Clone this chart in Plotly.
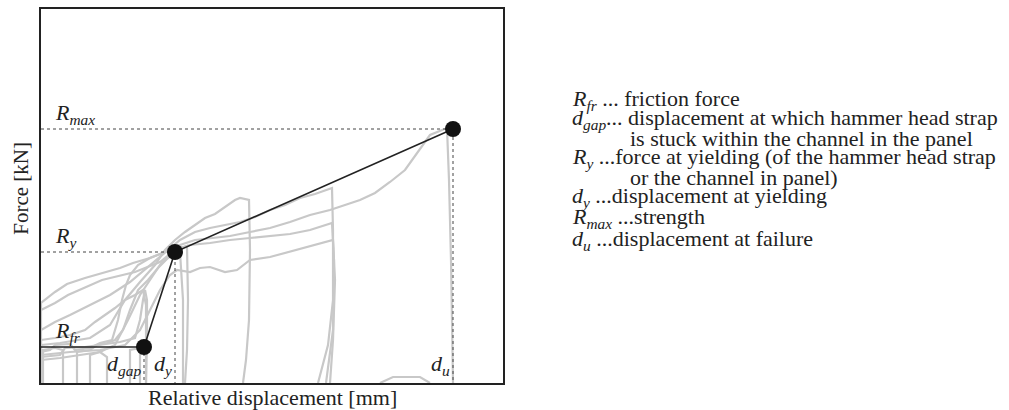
import plotly.graph_objects as go

# grey test curves: relative displacement [mm] / force [kN]
curve_disp = [
    [0, 0, 1.4, 2.6, 4.4, 5.9, 7.9, 9.2, 10.9, 12.4, 13.9, 15.4, 17.4, 18.9, 20.9, 22.9, 24.9, 26.9, 28.9,
     30.4, 31.9, 33.4, 34.9, 36.4, 37.7, 38.9, 40.6, 40.8, 41.0, 41.1, 41.2],
    [0, 0, 1.9, 4.9, 6.9, 8.4, 9.9, 11.4, 12.4, 13.4, 14.4, 15.4, 16.4, 17.4, 18.4, 19.4, 19.9, 20.8, 20.9,
     20.8, 20.5, 20.2],
    [0, 1.4, 2.9, 4.9, 6.9, 8.9, 10.9, 12.4, 13.9, 15.4, 16.9, 18.4, 19.9, 21.4, 22.9, 24.4, 25.9, 27.4,
     29.1, 29.2, 29.2, 28.7, 27.7],
    [0, 1.4, 2.7, 6.1, 9.4, 11.9, 13.4, 14.9, 16.9, 18.9, 20.9, 22.9, 24.9, 26.9, 29.1, 29.3, 29.2, 28.5],
    [0, 0, 2.9, 5.9, 8.4, 9.9, 10.9, 11.9, 12.9, 13.6, 14.9, 15.9, 16.9, 18.4, 19.6, 20.9, 22.9, 25.6, 27.4,
     29.2, 29.4, 29.2, 28.9],
    [0, 0, 1.9, 3.9, 5.9, 7.4, 8.7, 9.9, 10.9, 11.9, 12.9, 13.9, 14.6, 14.7, 14.6, 14.4],
    [0, 0, 0.9, 1.4, 2.9, 3.4, 4.9, 5.9, 7.1, 7.7, 8.1, 8.5, 8.9, 9.7, 10.9, 12.4, 13.4, 13.9, 14.2, 14.2],
    [0, 0, 1.9, 2.4, 4.4, 5.9, 7.9, 9.4, 9.9, 10.2, 10.4, 10.6, 10.6, 10.5],
    [0, 0, 1.4, 2.9, 4.4, 5.4, 6.4, 7.4, 8.4, 9.4, 10.2, 10.5, 10.5],
    [0.2, 0.2, 1.4, 2.2, 2.2],
    [3.6, 3.6, 4.9, 5.6, 6.6, 7.4, 8.2, 8.9, 9.7, 10.7, 11.7, 12.7, 13.4],
    [4.9, 4.9, 5.9, 6.6, 6.6],
    [8.9, 8.9, 9.9, 9.9],
    [33.9, 35.2, 37.9, 38.9],
]
curve_force = [
    [0, 8.0, 9.1, 9.9, 10.5, 10.9, 11.5, 12.0, 12.5, 13.1, 13.8, 14.3, 14.5, 14.7, 15.1, 15.5, 16.1, 16.8, 17.3,
     17.8, 18.3, 19.0, 20.1, 21.3, 23.1, 24.8, 25.5, 20.3, 12.3, 5.3, 0],
    [0, 3.8, 4.0, 4.5, 5.8, 8.3, 10.1, 11.8, 13.3, 14.3, 15.1, 15.8, 16.5, 16.9, 17.6, 18.3, 18.5, 18.3, 13.3,
     6.3, 2.3, 0],
    [5.3, 6.1, 6.8, 7.8, 8.8, 10.1, 11.8, 13.1, 14.3, 15.1, 15.5, 15.8, 16.1, 16.6, 17.3, 17.8, 18.5, 18.9,
     19.5, 15.3, 8.3, 3.8, 0],
    [7.3, 8.0, 8.8, 10.3, 11.1, 12.1, 13.3, 13.8, 14.0, 14.3, 14.5, 14.7, 14.9, 15.3, 16.0, 12.3, 5.3, 0],
    [0, 2.8, 3.1, 3.3, 3.8, 5.3, 7.3, 9.3, 10.8, 11.3, 11.1, 11.5, 11.6, 11.1, 11.3, 12.3, 12.6, 13.3, 13.8,
     14.3, 10.3, 4.3, 0],
    [0, 2.3, 2.5, 2.8, 3.1, 3.8, 6.3, 8.8, 10.3, 11.8, 12.8, 13.5, 13.7, 8.3, 3.3, 0],
    [0, 3.1, 3.3, 3.8, 3.9, 3.3, 3.5, 4.0, 4.3, 6.3, 8.3, 9.8, 10.8, 11.8, 12.5, 13.1, 13.3, 13.1, 8.3, 0],
    [0, 2.6, 2.8, 3.5, 3.6, 3.8, 4.1, 4.5, 6.3, 8.3, 9.3, 8.3, 4.3, 0],
    [0, 4.3, 4.5, 4.8, 5.3, 6.1, 6.8, 7.5, 8.3, 8.8, 9.3, 7.8, 0],
    [0, 3.3, 3.5, 3.3, 0],
    [0, 3.1, 3.3, 3.8, 4.0, 4.3, 5.3, 7.3, 9.3, 10.3, 11.5, 12.5, 13.0],
    [0, 2.8, 3.1, 2.6, 0],
    [0, 3.3, 3.5, 0],
    [0, 0.6, 0.6, 0],
]

# idealised model: friction, gap, yield, max
model_disp = [0, 10.3, 13.4, 41.2]
model_force = [3.6, 3.6, 13.1, 25.4]
model_labels = ['gap', 'y', 'u']

legend_lines = [
    '<i>R</i><sub><i>fr</i></sub> ... friction force',
    '<i>d</i><sub><i>gap</i></sub>... displacement at which hammer head strap',
    'is stuck within the channel in the panel',
    '<i>R</i><sub><i>y</i></sub> ...force at yielding (of the hammer head strap',
    'or the channel in panel)',
    '<i>d</i><sub><i>y</i></sub> ...displacement at yielding',
    '<i>R</i><sub><i>max</i></sub> ...strength',
    '<i>d</i><sub><i>u</i></sub> ...displacement at failure',
]
legend_indent = [0, 0, 1, 0, 1, 0, 0, 0]

FONT = 'Liberation Serif'
X_MAX, Y_MAX = 46.2, 37.4

fig = go.Figure()

for xs, ys in zip(curve_disp, curve_force):
    fig.add_trace(go.Scatter(
        x=xs, y=ys, mode='lines',
        line=dict(color='#c8c8c8', width=2.2),
        showlegend=False, hoverinfo='skip',
    ))

# dotted guide lines
dgap, dy, du = model_disp[1], model_disp[2], model_disp[3]
rfr, ry, rmax = model_force[1], model_force[2], model_force[3]
for xs, ys in [
    ([0, du, du], [rmax, rmax, 0]),
    ([0, dy, dy], [ry, ry, 0]),
    ([dgap, dgap], [rfr, 0]),
]:
    fig.add_trace(go.Scatter(
        x=xs, y=ys, mode='lines',
        line=dict(color='#444444', width=1, dash='dot'),
        showlegend=False, hoverinfo='skip',
    ))

fig.add_trace(go.Scatter(
    x=model_disp, y=model_force, mode='lines',
    line=dict(color='#222222', width=1.6),
    showlegend=False,
))
fig.add_trace(go.Scatter(
    x=model_disp[1:], y=model_force[1:], mode='markers',
    marker=dict(color='#111111', size=16),
    showlegend=False,
))

lab_font = dict(family=FONT, size=22, color='#222222')
# force labels on the left
for txt, yv in [('max', rmax), ('y', ry), ('fr', rfr)]:
    fig.add_annotation(
        x=1.2, y=yv, xref='x', yref='y', xanchor='left', yanchor='bottom',
        text=f'<i>R</i><sub><i>{txt}</i></sub>', showarrow=False, font=lab_font,
        yshift=-1,
    )
# displacement labels at the bottom
for txt, xv in zip(model_labels, model_disp[1:]):
    fig.add_annotation(
        x=xv, y=0, xref='x', yref='y', xanchor='right', yanchor='bottom',
        text=f'<i>d</i><sub><i>{txt}</i></sub>', showarrow=False, font=lab_font,
        xshift=-1, yshift=2,
    )

# axis titles
fig.add_annotation(
    x=0.5, y=-0.04, xref='paper', yref='paper', xanchor='center', yanchor='middle',
    text='Relative displacement [mm]', showarrow=False,
    font=dict(family=FONT, size=22, color='#222222'),
)
fig.add_annotation(
    x=-0.045, y=0.52, xref='paper', yref='paper', xanchor='center', yanchor='middle',
    text='Force [kN]', textangle=-90, showarrow=False,
    font=dict(family=FONT, size=21, color='#222222'),
)

# explanation text on the right
line_y = [100, 119, 138, 158, 177, 197, 218, 240]
for txt, ind, py in zip(legend_lines, legend_indent, line_y):
    px = 628 if ind else 570
    fig.add_annotation(
        x=(px - 41) / 462, y=(383 - py) / 374, xref='paper', yref='paper',
        xanchor='left', yanchor='middle', text=txt, showarrow=False,
        font=dict(family=FONT, size=22, color='#222222'),
    )

fig.update_layout(
    width=1009, height=410,
    margin=dict(l=41, r=506, t=9, b=27, autoexpand=False),
    paper_bgcolor='white', plot_bgcolor='white',
    xaxis=dict(range=[0, X_MAX], showgrid=False, zeroline=False, showticklabels=False, ticks='',
               showline=True, mirror=True, linecolor='#222222', linewidth=2),
    yaxis=dict(range=[0, Y_MAX], showgrid=False, zeroline=False, showticklabels=False, ticks='',
               showline=True, mirror=True, linecolor='#222222', linewidth=2),
)

fig.write_html('out.html', config={'displayModeBar': False},
               post_script="document.body.style.margin = '0';")
